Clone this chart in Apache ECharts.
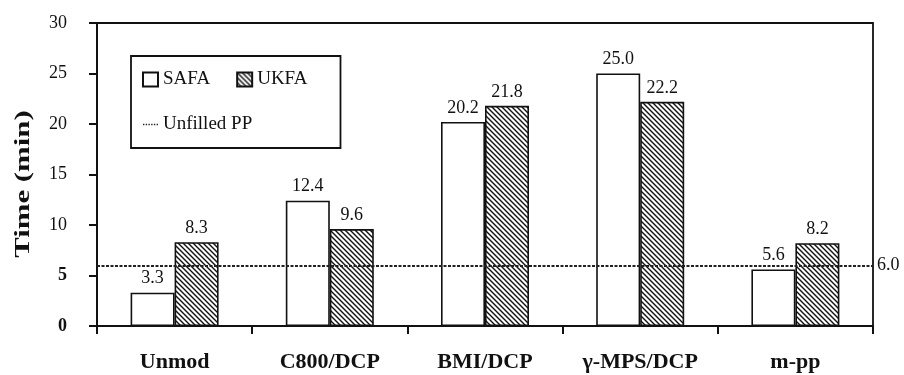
<!DOCTYPE html>
<html>
<head>
<meta charset="utf-8">
<script src="https://cdn.jsdelivr.net/npm/echarts@6/dist/echarts.min.js"></script>
<style>
  html, body { margin: 0; padding: 0; background: #fff; }
  #chart { width: 904px; height: 375px; }
</style>
</head>
<body>
<div id="chart"></div>
<script>
// Mixing times per compatibiliser system
const categories = ['Unmod', 'C800/DCP', 'BMI/DCP', 'γ-MPS/DCP', 'm-pp'];
const safaValues = [3.3, 12.4, 20.2, 25.0, 5.6];
const ukfaValues = [8.3, 9.6, 21.8, 22.2, 8.2];
const unfilledPP = 6.0;
const yMin = 0, yMax = 30, yStep = 5;

const SERIF = '"Liberation Serif", "Times New Roman", serif';

// Diagonal "\" hatch tile for the UKFA bars
function hatchTile() {
  const s = 5;
  const c = document.createElement('canvas');
  c.width = s; c.height = s;
  const g = c.getContext('2d');
  g.fillStyle = '#fff';
  g.fillRect(0, 0, s, s);
  g.strokeStyle = '#111';
  g.lineWidth = 1.4;
  g.beginPath();
  g.moveTo(-1, -1); g.lineTo(s + 1, s + 1);
  g.moveTo(s - 1, -1); g.lineTo(s + 1, 1);
  g.moveTo(-1, s - 1); g.lineTo(1, s + 1);
  g.stroke();
  return c;
}

// Row of small dashes used as the legend key of the reference line
const dottedKey = 'path://M0,0h2v2h-2zM4,0h2v2h-2zM8,0h2v2h-2zM12,0h2v2h-2zM16,0h2v2h-2zM20,0h2v2h-2z';

const chart = echarts.init(document.getElementById('chart'), null, { renderer: 'canvas' });

const barLabel = {
  show: true,
  position: 'top',
  distance: 5,
  color: '#111',
  fontFamily: SERIF,
  fontSize: 18,
  formatter: p => p.value.toFixed(1)
};

chart.setOption({
  animation: false,
  backgroundColor: '#fff',
  grid: {
    left: 97, right: 31, top: 23, bottom: 49,
    show: true, borderColor: '#111', borderWidth: 1.8, backgroundColor: 'transparent'
  },
  legend: {
    left: 131, top: 56,
    width: 190,
    padding: [14, 33, 14, 11],
    itemGap: 26,
    itemWidth: 15, itemHeight: 14,
    borderColor: '#111', borderWidth: 1.8,
    backgroundColor: '#fff',
    textStyle: { fontFamily: SERIF, fontSize: 19, color: '#111' },
    data: [
      { name: 'SAFA', icon: 'rect' },
      { name: 'UKFA', icon: 'rect' },
      { name: 'Unfilled PP', icon: dottedKey, itemStyle: { color: '#222' } }
    ]
  },
  xAxis: {
    type: 'category',
    data: categories,
    axisLine: { lineStyle: { color: '#111', width: 2 } },
    axisTick: { show: true, length: 8, lineStyle: { color: '#111', width: 2 } },
    axisLabel: {
      margin: 25,
      color: '#111',
      fontFamily: SERIF,
      fontSize: 22,
      fontWeight: 'bold'
    }
  },
  yAxis: {
    type: 'value',
    min: yMin, max: yMax, interval: yStep,
    splitLine: { show: false },
    axisLine: { show: true, lineStyle: { color: '#111', width: 2 } },
    axisTick: { show: true, length: 8, lineStyle: { color: '#111', width: 2 } },
    axisLabel: {
      margin: 30,
      color: '#111',
      fontFamily: SERIF,
      fontSize: 18,
      formatter: v => (v <= 5 ? '{b|' + v + '}' : String(v)),
      rich: { b: { fontFamily: SERIF, fontSize: 18, fontWeight: 'bold', color: '#111' } }
    }
  },
  graphic: [{
    type: 'text',
    x: 23, y: 184,
    rotation: Math.PI / 2,
    scaleX: 1.4,
    style: {
      text: 'Time (min)',
      font: 'bold 22px ' + SERIF,
      fill: '#111',
      align: 'center',
      verticalAlign: 'middle'
    }
  }],
  series: [
    {
      name: 'SAFA',
      type: 'bar',
      data: safaValues,
      barWidth: 44,
      barGap: '0%',
      itemStyle: { color: '#fff', borderColor: '#111', borderWidth: 1.6 },
      label: barLabel,
      z: 2
    },
    {
      name: 'UKFA',
      type: 'bar',
      data: ukfaValues,
      barWidth: 44,
      barGap: '0%',
      itemStyle: {
        color: { image: hatchTile(), repeat: 'repeat' },
        borderColor: '#111', borderWidth: 1.6
      },
      label: barLabel,
      z: 2
    },
    {
      name: 'Unfilled PP',
      type: 'line',
      data: [],
      symbol: 'none',
      itemStyle: { color: '#222' },
      lineStyle: { color: '#222', width: 2, type: [2, 2] },
      markLine: {
        silent: true,
        symbol: 'none',
        lineStyle: { color: '#222', width: 2, type: [3, 1.5] },
        label: {
          show: true,
          position: 'end',
          distance: 4,
          color: '#111',
          fontFamily: SERIF,
          fontSize: 18,
          formatter: p => p.value.toFixed(1)
        },
        data: [{ yAxis: unfilledPP }]
      },
      z: 5
    }
  ]
});
</script>
</body>
</html>
